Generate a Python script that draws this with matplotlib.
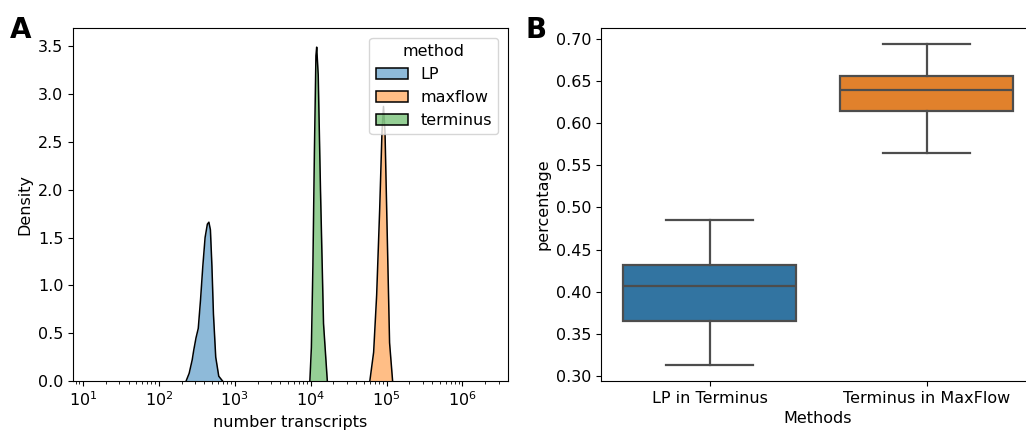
import numpy as np
import matplotlib.pyplot as plt
from matplotlib.colors import to_rgb
from matplotlib.patches import Patch

plt.rcParams['font.family'] = 'DejaVu Sans'
plt.rcParams['font.size'] = 11.5

# panel A: density curves (log10 of number transcripts, density)
lp_logx = [2.36, 2.40, 2.44, 2.46, 2.49, 2.52, 2.55, 2.58, 2.61, 2.64, 2.66, 2.68, 2.70, 2.72, 2.75, 2.79, 2.84]
lp_dens = [0.0, 0.08, 0.22, 0.32, 0.45, 0.55, 0.85, 1.2, 1.5, 1.64, 1.66, 1.58, 1.2, 0.7, 0.25, 0.05, 0.0]
mf_logx = [4.78, 4.83, 4.87, 4.91, 4.94, 4.96, 4.98, 5.01, 5.04, 5.08]
mf_dens = [0.0, 0.3, 0.9, 1.8, 2.6, 2.87, 2.6, 1.5, 0.4, 0.0]
te_logx = [3.99, 4.01, 4.03, 4.05, 4.07, 4.08, 4.10, 4.13, 4.17, 4.22]
te_dens = [0.0, 0.35, 1.2, 2.4, 3.4, 3.49, 3.2, 2.0, 0.6, 0.0]
methods = ['LP', 'maxflow', 'terminus']

# panel B: box statistics
box_labels = ['LP in Terminus', 'Terminus in MaxFlow']
whislo = [0.313, 0.565]
q1 = [0.365, 0.614]
med = [0.407, 0.640]
q3 = [0.432, 0.656]
whishi = [0.485, 0.694]

fig = plt.figure(figsize=(10.26, 4.32), dpi=100)
ax1 = fig.add_axes([73/1026, 1-381/432, 435/1026, 353/432])
ax2 = fig.add_axes([601/1026, 1-381/432, 434/1026, 353/432])

cols = ['#1f77b4', '#ff7f0e', '#2ca02c']
curves = [(lp_logx, lp_dens), (mf_logx, mf_dens), (te_logx, te_dens)]
for (lx, d), c in zip(curves, cols):
    x = 10**np.array(lx)
    ax1.fill_between(x, d, color=c, alpha=0.5, lw=0)
    ax1.plot(x, d, color='k', lw=1.1)
ax1.set_xscale('log')
ax1.set_xlim(10**0.87, 10**6.6)
ax1.set_ylim(0, 3.69)
ax1.set_yticks(np.arange(0, 3.51, 0.5))
ax1.set_xlabel('number transcripts')
ax1.set_ylabel('Density')
handles = [Patch(facecolor=(*to_rgb(c), 0.5), edgecolor='k', lw=1.1) for c in cols]
ax1.legend(handles, methods, title='method', loc='upper right',
           fontsize=11.5, title_fontsize=11.5, borderaxespad=0.6)

stats = []
for i in range(2):
    stats.append({'whislo': whislo[i], 'q1': q1[i], 'med': med[i], 'q3': q3[i],
                  'whishi': whishi[i], 'fliers': []})
lc = '#4d4d4d'
bp = ax2.bxp(stats, positions=[0, 1], widths=0.8, patch_artist=True, showfliers=False,
             boxprops=dict(edgecolor=lc, lw=1.6),
             medianprops=dict(color=lc, lw=1.6),
             whiskerprops=dict(color=lc, lw=1.6),
             capprops=dict(color=lc, lw=1.6))
for b, c in zip(bp['boxes'], ['#3274a1', '#e1812c']):
    b.set_facecolor(c)
for cap in bp['caps']:
    m = np.mean(cap.get_xdata())
    cap.set_xdata([m - 0.2, m + 0.2])
ax2.set_xlim(-0.5, 1.5)
ax2.set_ylim(0.294, 0.713)
ax2.set_yticks(np.arange(0.30, 0.701, 0.05))
ax2.set_xticks([0, 1])
ax2.set_xticklabels(box_labels)
ax2.set_xlabel('Methods')
ax2.set_ylabel('percentage')

fig.text(10/1026, 1-38/432, 'A', fontsize=20, fontweight='bold')
fig.text(525/1026, 1-38/432, 'B', fontsize=20, fontweight='bold')

fig.savefig('out.png', dpi=100)
